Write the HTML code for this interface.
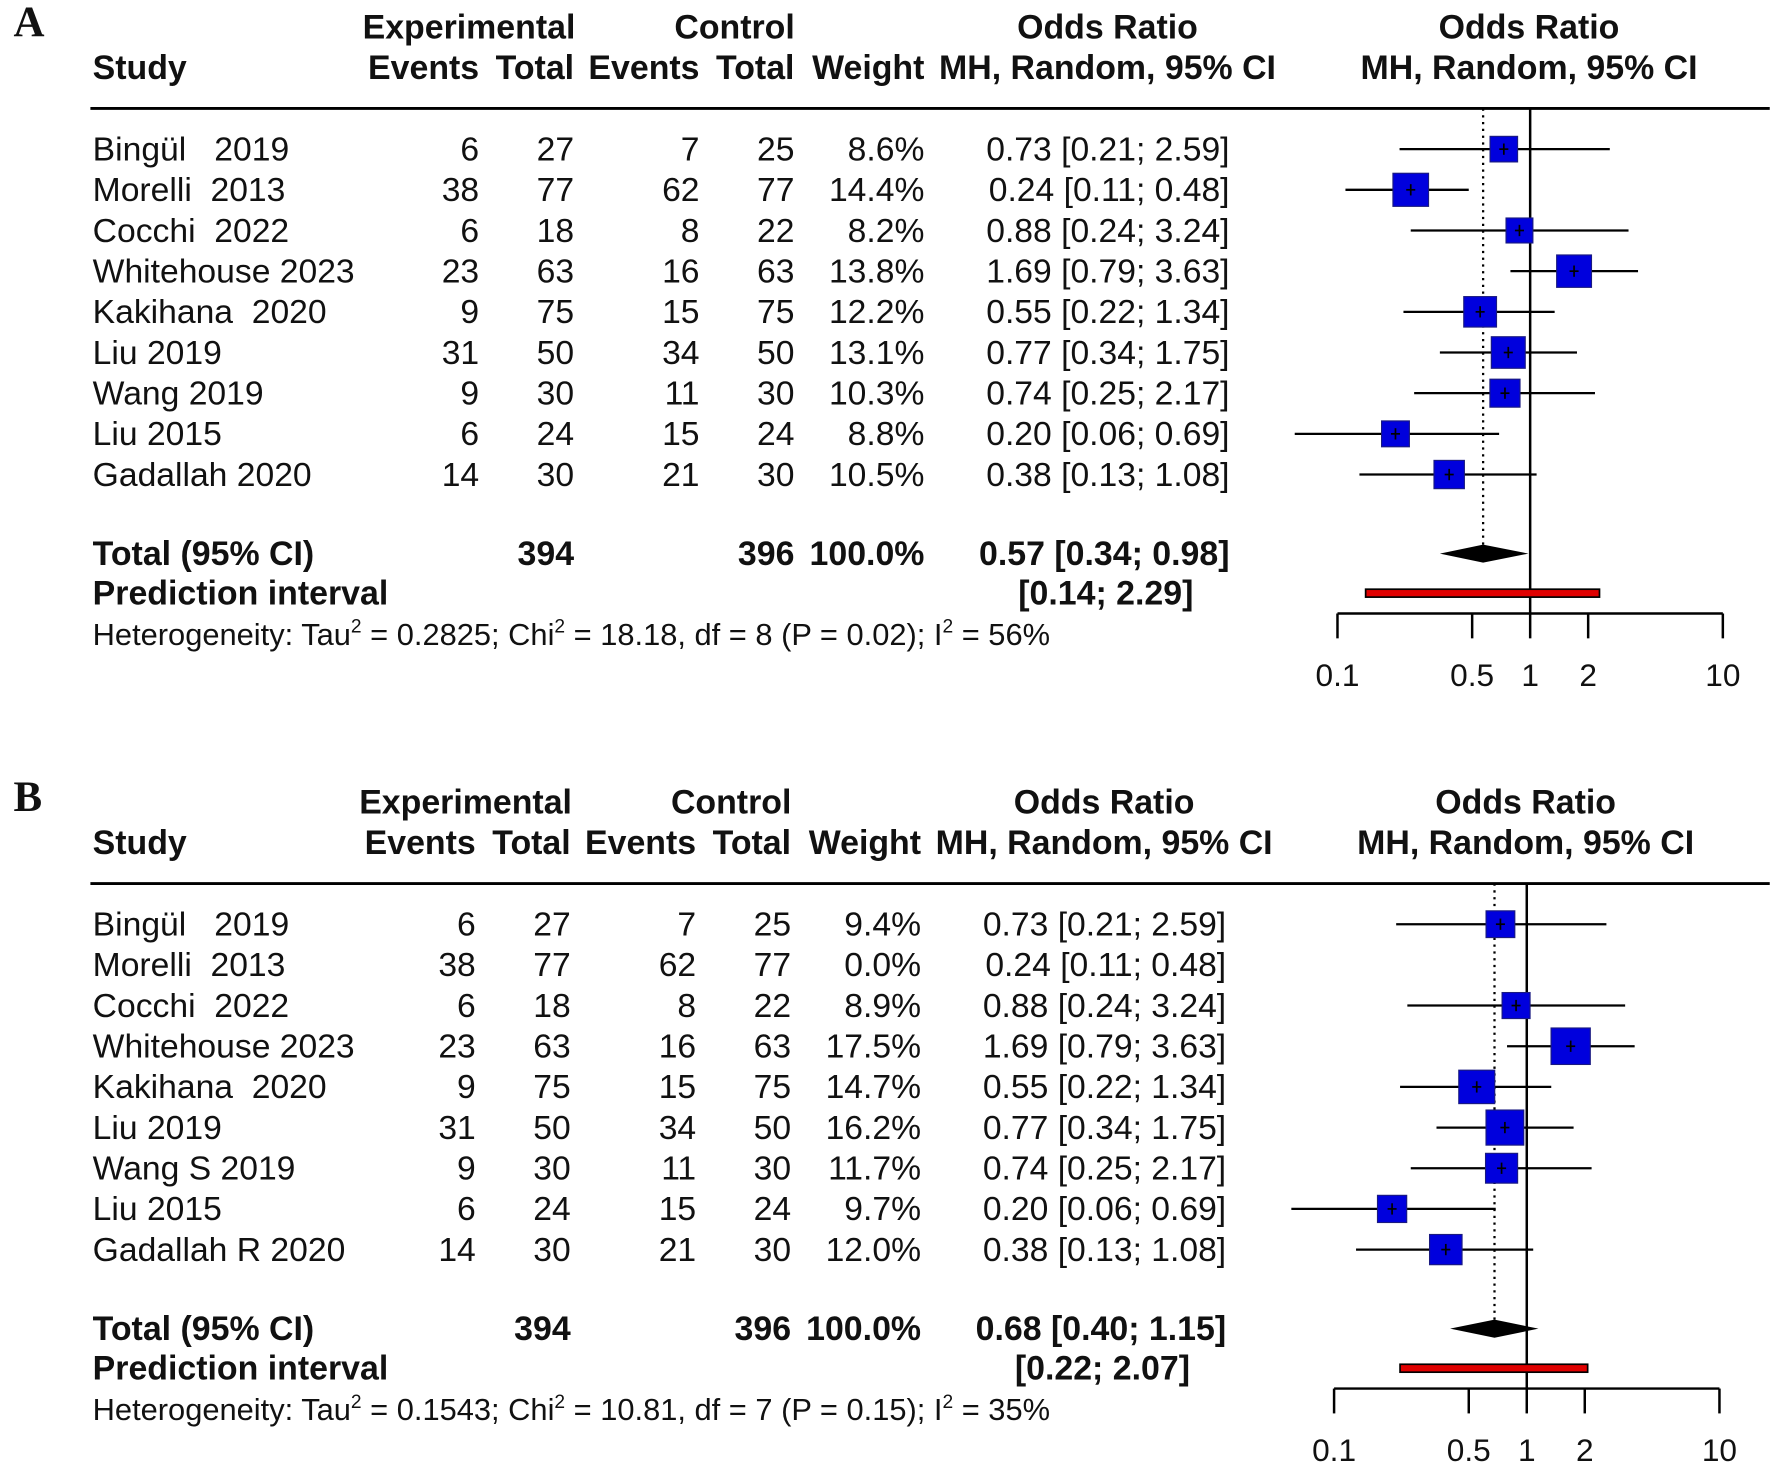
<!DOCTYPE html>
<html><head><meta charset="utf-8"><style>
html,body{margin:0;padding:0;background:#fff;}
svg{display:block;}
text{font-family:"Liberation Sans",Arial,sans-serif;fill:#111;white-space:pre;}
.b{font-weight:bold;}
</style></head><body>
<svg id="chart" width="1772" height="1462" viewBox="0 0 1568 1294" preserveAspectRatio="none" xmlns="http://www.w3.org/2000/svg" xml:space="preserve"></svg>
<script>
const studiesA = ["Bingül   2019","Morelli  2013","Cocchi  2022","Whitehouse 2023","Kakihana  2020","Liu 2019","Wang 2019","Liu 2015","Gadallah 2020"];
const studiesB = ["Bingül   2019","Morelli  2013","Cocchi  2022","Whitehouse 2023","Kakihana  2020","Liu 2019","Wang S 2019","Liu 2015","Gadallah R 2020"];
const expEvents = [6,38,6,23,9,31,9,6,14];
const expTotal = [27,77,18,63,75,50,30,24,30];
const ctlEvents = [7,62,8,16,15,34,11,15,21];
const ctlTotal = [25,77,22,63,75,50,30,24,30];
const orVals = [0.73,0.24,0.88,1.69,0.55,0.77,0.74,0.20,0.38];
const orLow = [0.21,0.11,0.24,0.79,0.22,0.34,0.25,0.06,0.13];
const orHigh = [2.59,0.48,3.24,3.63,1.34,1.75,2.17,0.69,1.08];
const weightsA = [8.6,14.4,8.2,13.8,12.2,13.1,10.3,8.8,10.5];
const weightsB = [9.4,0.0,8.9,17.5,14.7,16.2,11.7,9.7,12.0];
const totalA = [0.57,0.34,0.98]; const predA = [0.14,2.29];
const totalB = [0.68,0.40,1.15]; const predB = [0.22,2.07];
const hetA = ["0.2825","18.18","8","0.02","56%"];
const hetB = ["0.1543","10.81","7","0.15","35%"];
const axisTicks = [0.1,0.5,1,2,10];
const axisTickLabels = ["0.1","0.5","1","2","10"];

const svg = document.getElementById('chart');
const NS = "http://www.w3.org/2000/svg";
const RS = 29.8, BS = 30;
function mk(tag, attrs, parent){const e=document.createElementNS(NS,tag);for(const k in attrs)e.setAttribute(k,attrs[k]);(parent||svg).appendChild(e);return e;}
function txt(s,x,y,anchor,size,bold,parent){const t=mk('text',{x:x,y:y,'text-anchor':anchor,'font-size':size},parent);if(bold)t.setAttribute('class','b');t.textContent=s;return t;}
const f2=v=>v.toFixed(2);

function panel(id,label,oy,dx,studies,weights,total,pred,het){
  const g=mk('g',{});
  
  
  const xs=v=>1354+dx+170.5*Math.log10(v);
  const L=mk('text',{x:12,y:oy+32,'font-size':38,style:'font-family:"Liberation Serif",serif;font-weight:bold'},g);
  L.textContent=label;
  
  
  const hg=mk('g',{},g);
  
  
  txt("Experimental",415+dx,oy+34,'middle',BS,true,hg);
  txt("Control",650+dx,oy+34,'middle',BS,true,hg);
  txt("Odds Ratio",980+dx,oy+34,'middle',BS,true,hg);
  txt("Odds Ratio",1353+dx,oy+34,'middle',BS,true,hg);
  txt("Study",82,oy+70,'start',BS,true,hg);
  txt("Events",424+dx,oy+70,'end',BS,true,hg);
  txt("Total",508+dx,oy+70,'end',BS,true,hg);
  txt("Events",619+dx,oy+70,'end',BS,true,hg);
  txt("Total",703+dx,oy+70,'end',BS,true,hg);
  txt("Weight",818+dx,oy+70,'end',BS,true,hg);
  txt("MH, Random, 95% CI",980+dx,oy+70,'middle',BS,true,hg);
  txt("MH, Random, 95% CI",1353+dx,oy+70,'middle',BS,true,hg);
  mk('line',{x1:80,y1:oy+96,x2:1566,y2:oy+96,stroke:'#000','stroke-width':2.5},g);
  const bottom=oy+543;
  mk('line',{x1:xs(1),y1:oy+96,x2:xs(1),y2:bottom,stroke:'#000','stroke-width':2.2},g);
  mk('line',{x1:xs(total[0]),y1:oy+96,x2:xs(total[0]),y2:oy+490,stroke:'#000','stroke-width':2,'stroke-dasharray':'2,4'},g);
  for(let i=0;i<studies.length;i++){
    const y=oy+132+36*i;
    const r=mk('g',{},g);
    
    
    txt(studies[i],82,y+10,'start',RS,false,r);
    txt(String(expEvents[i]),424+dx,y+10,'end',RS,false,r);
    txt(String(expTotal[i]),508+dx,y+10,'end',RS,false,r);
    txt(String(ctlEvents[i]),619+dx,y+10,'end',RS,false,r);
    txt(String(ctlTotal[i]),703+dx,y+10,'end',RS,false,r);
    txt(weights[i].toFixed(1)+"%",818+dx,y+10,'end',RS,false,r);
    txt(f2(orVals[i])+" ["+f2(orLow[i])+"; "+f2(orHigh[i])+"]",1088+dx,y+10,'end',RS,false,r);
    if(weights[i]>0){
      const ci=mk('line',{x1:xs(orLow[i]),y1:y,x2:xs(orHigh[i]),y2:y,stroke:'#000','stroke-width':2},r);
      
      
      const s=8.3*Math.sqrt(weights[i]);
      const sq=mk('rect',{x:xs(orVals[i])-s/2,y:y-s/2*0.93,width:s,height:s*0.93,fill:'#0000dd',stroke:'#1a1a80','stroke-width':1},r);
      
      
      mk('line',{x1:xs(orVals[i]),y1:y-5,x2:xs(orVals[i]),y2:y+5,stroke:'#000','stroke-width':1.5},r);
      mk('line',{x1:xs(orVals[i])-4,y1:y,x2:xs(orVals[i])+4,y2:y,stroke:'#000','stroke-width':1.5},r);
    }
  }
  const ty=oy+490;
  txt("Total (95% CI)",82,ty+10,'start',BS,true,g);
  txt(String(expTotal.reduce((a,b)=>a+b,0)),508+dx,ty+10,'end',BS,true,g);
  txt(String(ctlTotal.reduce((a,b)=>a+b,0)),703+dx,ty+10,'end',BS,true,g);
  txt("100.0%",818+dx,ty+10,'end',BS,true,g);
  txt(f2(total[0])+" ["+f2(total[1])+"; "+f2(total[2])+"]",1088+dx,ty+10,'end',BS,true,g);
  const d=mk('polygon',{points:`${xs(total[1])},${ty} ${xs(total[0])},${ty-8} ${xs(total[2])},${ty} ${xs(total[0])},${ty+8}`,fill:'#000'},g);
  
  
  const py=oy+525;
  txt("Prediction interval",82,py+10,'start',BS,true,g);
  txt("["+f2(pred[0])+"; "+f2(pred[1])+"]",1056+dx,py+10,'end',BS,true,g);
  const pr=mk('rect',{x:xs(pred[0]),y:py-3.5,width:xs(pred[1])-xs(pred[0]),height:7,fill:'#e00000',stroke:'#000','stroke-width':1.5},g);
  
  
  const h=mk('text',{x:82,y:oy+571,'font-size':27.3},g);
  
  
  h.innerHTML=`Heterogeneity: Tau<tspan dy="-11" font-size="17">2</tspan><tspan dy="11"> = ${het[0]}; Chi</tspan><tspan dy="-11" font-size="17">2</tspan><tspan dy="11"> = ${het[1]}, df = ${het[2]} (P = ${het[3]}); I</tspan><tspan dy="-11" font-size="17">2</tspan><tspan dy="11"> = ${het[4]}</tspan>`;
  const ax=mk('g',{},g);
  
  
  mk('line',{x1:xs(axisTicks[0]),y1:bottom,x2:xs(axisTicks[axisTicks.length-1]),y2:bottom,stroke:'#000','stroke-width':2.2},ax);
  axisTicks.forEach((v,i)=>{
    mk('line',{x1:xs(v),y1:bottom,x2:xs(v),y2:bottom+22,stroke:'#000','stroke-width':2.2},ax);
    const t=txt(axisTickLabels[i],xs(v),bottom+64,'middle',28,false,ax);
    
    
  });
}
panel('a','A',0,0,studiesA,weightsA,totalA,predA,hetA);
panel('b','B',686,-3,studiesB,weightsB,totalB,predB,hetB);
</script>
</body></html>
